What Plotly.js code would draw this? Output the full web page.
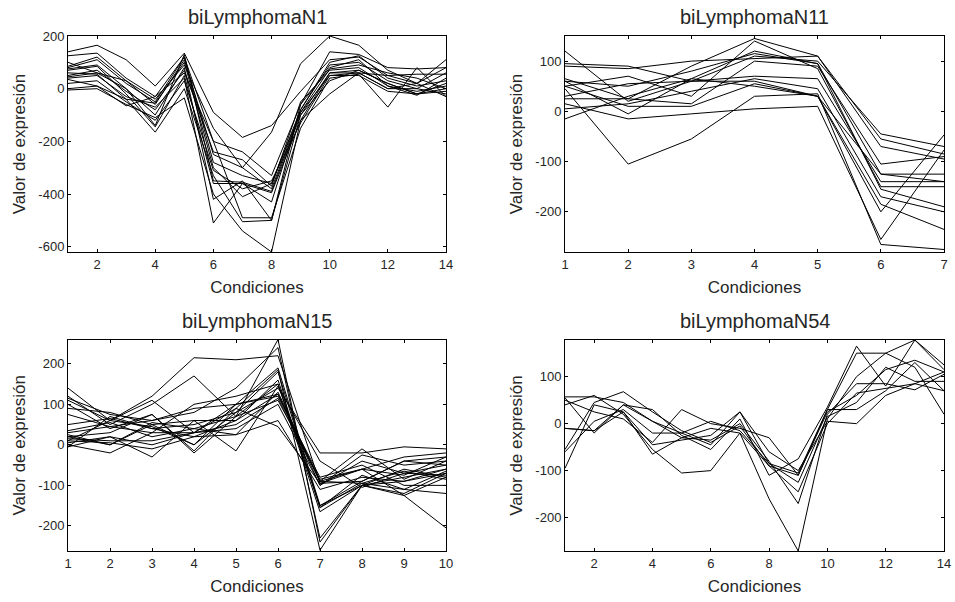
<!DOCTYPE html>
<html>
<head>
<meta charset="utf-8">
<script src="https://cdn.plot.ly/plotly-3.0.1.min.js"></script>
<style>html,body{margin:0;padding:0;background:#fff}#chart{width:955px;height:602px}</style>
</head>
<body>
<div id="chart"></div>
<script>
// ---------- data ----------
const titles = ["biLymphomaN1", "biLymphomaN11", "biLymphomaN15", "biLymphomaN54"];
const xLabel = "Condiciones";
const yLabel = "Valor de expresión";

const cond14 = [1,2,3,4,5,6,7,8,9,10,11,12,13,14];
const cond7 = [1,2,3,4,5,6,7];
const cond10 = [1,2,3,4,5,6,7,8,9,10];

const seriesN1 = [
  [125, 135, 40, -30, 120, -200, -240, -330, -60, 140, 130, 80, 75, 80],
  [140, 165, 110, 10, 135, -90, -185, -140, -10, 110, 120, 50, 20, 110],
  [85, 120, 30, -60, 110, -250, -300, -165, 95, 200, 165, 70, 20, 80],
  [75, 90, 0, -140, 130, -350, -355, -390, -100, 60, 60, 50, 55, 55],
  [70, 85, -20, -145, 50, -360, -360, -395, -120, 60, 70, 20, -20, 0],
  [60, 55, -40, -55, 100, -300, -410, -360, -90, 50, 60, 0, 0, -20],
  [45, 60, 0, -100, 80, -420, -350, -500, -60, 80, 110, 10, -25, 40],
  [40, 50, -30, -70, 40, -510, -360, -430, -80, 90, 100, 30, 0, 60],
  [35, 10, -65, -30, 60, -200, -490, -490, -150, 40, 55, -70, 80, -30],
  [0, 10, -40, -165, 0, -330, -505, -500, -100, 30, 70, 20, -20, 20],
  [-5, 0, -60, -110, -35, -400, -540, -620, -120, -20, 60, 0, 20, -30],
  [80, 110, 20, -50, 120, -280, -330, -360, -80, 100, 125, 40, 10, 30],
  [50, 70, -10, -80, 70, -240, -270, -370, -50, 70, 80, 10, -10, 10],
  [20, 30, -50, -120, 30, -310, -380, -350, -130, 50, 50, -10, -20, -10],
  [100, 60, 30, -40, 90, -150, -300, -380, -90, 75, 90, 60, 40, 0]
];

const seriesN11 = [
  [120, 20, 60, 60, 30, -200, -47],
  [95, 90, 60, 110, 100, -45, -70],
  [90, 85, 100, 105, 110, -55, -85],
  [65, 25, 90, 145, 110, -70, -95],
  [60, 50, 80, 115, 95, -125, -125],
  [50, 70, 30, 140, 85, -150, -150],
  [45, -105, -55, 30, 35, -265, -275],
  [30, 55, 60, 70, 65, -140, -140],
  [25, 25, 15, 100, 90, -105, -90],
  [15, -15, -5, 5, 10, -255, -77],
  [5, 15, 40, 65, 45, -170, -200],
  [-15, 30, 65, 120, 95, -155, -190],
  [50, 10, 10, 55, 30, -185, -235],
  [60, -5, 65, 50, 30, -125, -140]
];

const seriesN15 = [
  [140, 60, 120, 215, 210, 220, -95, -60, -75, -30],
  [120, 50, 100, 170, 70, 260, -240, -100, -125, -205],
  [115, 75, 60, 80, 140, 240, -230, -100, -90, -60],
  [110, 60, 110, 30, 100, 190, -150, -90, -40, -50],
  [100, 40, 75, -15, 90, 185, -260, -100, -60, -80],
  [90, 80, 50, 60, 60, 160, -155, -75, -110, -120],
  [75, 45, 30, 100, 120, 150, -165, -100, -120, -70],
  [50, 65, 40, 50, 80, 140, -20, -20, -5, -10],
  [35, 55, 20, 40, 25, 130, -90, -10, -85, -40],
  [25, 0, 50, 0, 100, 120, -80, -50, -100, -100],
  [20, 30, 75, -20, 70, 110, -85, -60, -30, -20],
  [15, 10, 10, 30, 40, 100, -100, -40, -70, -75],
  [10, 5, -10, 20, 25, 60, -110, -80, -90, -70],
  [5, 20, -30, 60, -15, 145, -40, -105, -70, -50],
  [0, -20, 30, 30, 90, 45, -95, -90, -40, -30],
  [-5, 70, 40, 20, 60, 125, -90, -60, -125, -80],
  [20, 0, 55, 40, 70, 150, -150, -100, -80, -60],
  [10, 60, 45, 0, 80, 180, -155, -95, -65, -85],
  [30, 45, 60, 90, 100, 125, -100, -25, -50, -40],
  [-5, 20, 0, 30, 50, 115, -90, -95, -110, -65]
];

const seriesN54 = [
  [57, 57, 45, 5, -20, -45, 25, -85, -105, 30, 150, 150, 178, 125],
  [55, -20, 40, 30, -25, -55, 10, -110, -75, 35, 165, 80, 178, 115],
  [40, 60, 20, -55, -105, -100, -20, -160, -271, 10, 100, 150, 120, 20],
  [50, 25, 10, -40, 30, 0, -10, -30, -110, 25, 60, 115, 135, 110],
  [-10, -15, 25, -65, -30, -35, 0, -80, -170, 20, 85, 85, 72, 105],
  [-55, 45, 68, 25, -15, -40, -5, -90, -145, 0, 65, 75, 85, 70],
  [-60, 5, 30, -20, -20, 5, -15, -85, -125, 15, 45, 120, 90, 90],
  [-95, 40, 25, -45, -35, -25, 25, -60, -100, 5, 0, 60, 85, 110],
  [-10, -15, 40, 5, -30, -10, -20, -90, -110, 30, 30, 70, 130, 70]
];

const xTicks14 = [2,4,6,8,10,12,14];
const xTicks7 = [1,2,3,4,5,6,7];
const xTicks10 = [1,2,3,4,5,6,7,8,9,10];
const yTicksN1 = [-600,-400,-200,0,200];
const yTickTextN1 = ["-600","-400","-200","0","200"];
const yTicksN11 = [-200,-100,0,100];
const yTickTextN11 = ["-200","-100","0","100"];
const yTicksN15 = [-200,-100,0,100,200];
const yTickTextN15 = ["-200","-100","0","100","200"];
const yTicksN54 = [-200,-100,0,100];
const yTickTextN54 = ["-200","-100","0","100"];

// ---------- build ----------
const W = 955, H = 602;
const FONT = "Liberation Sans, Arial, sans-serif";
const panels = [
  {x: cond14, ys: seriesN1, xa: "x", ya: "y", xr: [1,14], yr: [-620,200], xt: xTicks14, yt: yTicksN1, ytt: yTickTextN1,
   px: [68, 446], py: [36, 252]},
  {x: cond7, ys: seriesN11, xa: "x2", ya: "y2", xr: [1,7], yr: [-280,150], xt: xTicks7, yt: yTicksN11, ytt: yTickTextN11,
   px: [565, 944], py: [36, 252]},
  {x: cond10, ys: seriesN15, xa: "x3", ya: "y3", xr: [1,10], yr: [-262,260], xt: xTicks10, yt: yTicksN15, ytt: yTickTextN15,
   px: [68, 446], py: [339.5, 551]},
  {x: cond14, ys: seriesN54, xa: "x4", ya: "y4", xr: [1,14], yr: [-271,178], xt: xTicks14, yt: yTicksN54, ytt: yTickTextN54,
   px: [565, 944], py: [340, 551]}
];

const traces = [];
const layout = {
  width: W, height: H,
  margin: {l: 0, r: 0, t: 0, b: 0},
  paper_bgcolor: "#fff", plot_bgcolor: "#fff",
  showlegend: false,
  font: {family: FONT, color: "#262626"},
  annotations: []
};

panels.forEach((p, i) => {
  p.ys.forEach(y => traces.push({
    type: "scatter", mode: "lines", x: p.x, y: y,
    xaxis: p.xa, yaxis: p.ya,
    line: {color: "#000", width: 1}, hoverinfo: "skip"
  }));
  const sfx = i === 0 ? "" : String(i + 1);
  const axCommon = {
    showline: true, linecolor: "#000", linewidth: 1, mirror: "ticks",
    ticks: "inside", ticklen: 3, tickwidth: 1, tickcolor: "#000",
    showgrid: false, zeroline: false,
    tickfont: {family: FONT, size: 13, color: "#262626"}
  };
  layout["xaxis" + sfx] = Object.assign({}, axCommon, {
    domain: [p.px[0] / W, p.px[1] / W], range: p.xr, anchor: p.ya,
    tickmode: "array", tickvals: p.xt,
    title: {text: xLabel, font: {family: FONT, size: 17, color: "#262626"}, standoff: 10}
  });
  layout["yaxis" + sfx] = Object.assign({}, axCommon, {
    domain: [1 - p.py[1] / H, 1 - p.py[0] / H], range: p.yr, anchor: p.xa,
    tickmode: "array", tickvals: p.yt, ticktext: p.ytt,
    title: {text: yLabel, font: {family: FONT, size: 17, color: "#262626"}, standoff: 8}
  });
  layout.annotations.push({
    text: titles[i], xref: "paper", yref: "paper",
    x: (p.px[0] + p.px[1]) / 2 / W, y: 1 - (p.py[0] - 19) / H,
    xanchor: "center", yanchor: "middle", showarrow: false,
    font: {family: FONT, size: 20, color: "#262626", weight: "normal"}
  });
});

Plotly.newPlot("chart", traces, layout, {staticPlot: true, displayModeBar: false});
</script>
</body>
</html>
